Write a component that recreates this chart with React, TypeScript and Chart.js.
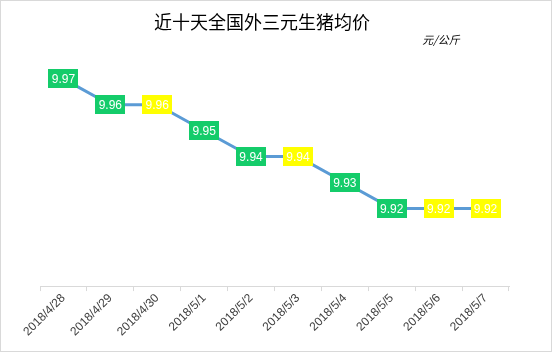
import React, { useEffect, useRef } from "react";
import { Chart, registerables } from "chart.js";

Chart.register(...registerables);

const title = "近十天全国外三元生猪均价";
const unitLabel = "元/公斤";
const categories = ["2018/4/28", "2018/4/29", "2018/4/30", "2018/5/1", "2018/5/2", "2018/5/3", "2018/5/4", "2018/5/5", "2018/5/6", "2018/5/7"];
const prices = [9.97, 9.96, 9.96, 9.95, 9.94, 9.94, 9.93, 9.92, 9.92, 9.92];
const labelColors = ["#14CC6A", "#14CC6A", "#FFFF00", "#14CC6A", "#14CC6A", "#FFFF00", "#14CC6A", "#14CC6A", "#FFFF00", "#FFFF00"];

const labelPlugin = {
  id: "boxLabels",
  afterDatasetsDraw(chart: any) {
    const ctx = chart.ctx;
    const meta = chart.getDatasetMeta(0);
    ctx.save();
    ctx.font = "12px 'Liberation Sans', Arial, sans-serif";
    ctx.textAlign = "center";
    ctx.textBaseline = "middle";
    meta.data.forEach((pt: any, i: number) => {
      const w = 30, h = 19;
      ctx.fillStyle = labelColors[i];
      ctx.fillRect(Math.round(pt.x - w / 2), Math.round(pt.y - h / 2), w, h);
      ctx.fillStyle = "#ffffff";
      ctx.fillText(prices[i].toFixed(2), pt.x, pt.y + 1);
    });
    ctx.restore();
  },
  afterDraw(chart: any) {
    const ctx = chart.ctx;
    ctx.save();
    ctx.fillStyle = "#000000";
    ctx.textAlign = "center";
    ctx.textBaseline = "middle";
    ctx.font = "18px 'Noto Sans CJK SC', sans-serif";
    ctx.fillText(title, 262, 22);
    ctx.font = "italic 11px 'Noto Sans CJK SC', sans-serif";
    ctx.fillText(unitLabel, 441, 40);
    ctx.strokeStyle = "#d9d9d9";
    ctx.lineWidth = 1;
    ctx.strokeRect(0.5, 0.5, chart.width - 1, chart.height - 1);
    ctx.restore();
  },
};

export default function App() {
  const ref = useRef<HTMLCanvasElement>(null);
  useEffect(() => {
    const chart = new Chart(ref.current!, {
      type: "line",
      data: {
        labels: categories,
        datasets: [
          {
            data: prices,
            borderColor: "#5B9BD5",
            borderWidth: 3,
            pointRadius: 0,
            tension: 0,
          },
        ],
      },
      options: {
        animation: false,
        responsive: false,
        maintainAspectRatio: false,
        layout: { padding: { left: 40, right: 43, top: 53, bottom: 13 } },
        plugins: { legend: { display: false }, tooltip: { enabled: false } },
        scales: {
          x: {
            offset: true,
            grid: { offset: true, drawOnChartArea: false, tickLength: 5, color: "#d9d9d9" },
            border: { color: "#d9d9d9" },
            ticks: {
              maxRotation: 45,
              minRotation: 45,
              color: "#404040",
              font: { size: 12, family: "'Liberation Sans', Arial, sans-serif" },
              padding: 0,
            },
          },
          y: { display: false, min: 9.89, max: 9.98 },
        },
      },
      plugins: [labelPlugin],
    });
    return () => chart.destroy();
  }, []);
  return (
    <div style={{ position: "fixed", left: 0, top: 0, width: 552, height: 352, background: "#fff" }}>
      <canvas ref={ref} width={552} height={352} style={{ width: 552, height: 352 }} />
    </div>
  );
}
